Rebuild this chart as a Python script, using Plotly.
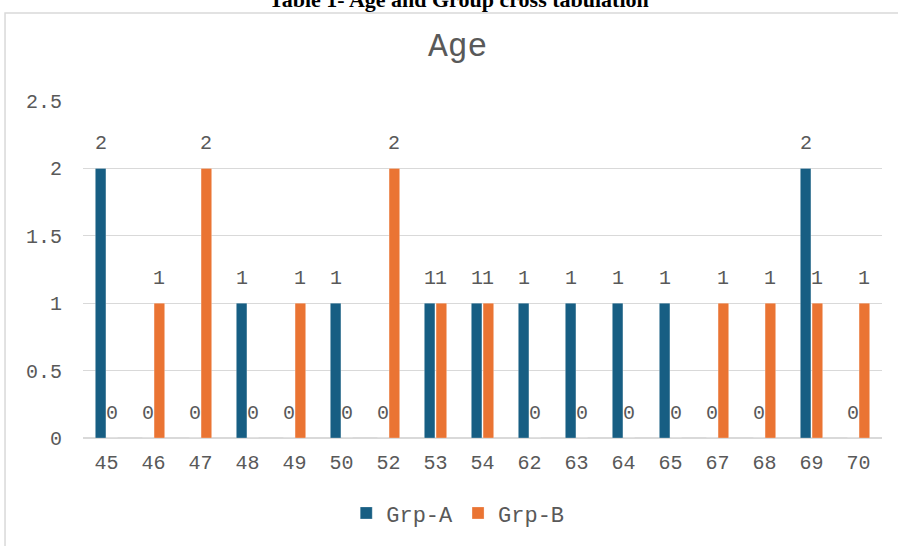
import plotly.graph_objects as go

# Age vs. group cross tabulation counts
ages = ["45", "46", "47", "48", "49", "50", "52", "53", "54",
        "62", "63", "64", "65", "67", "68", "69", "70"]
grp_a = [2, 0, 0, 1, 0, 1, 0, 1, 1, 1, 1, 1, 1, 0, 0, 2, 0]
grp_b = [0, 1, 2, 0, 1, 0, 2, 1, 1, 0, 0, 0, 0, 1, 1, 1, 1]
y_ticks = [0, 0.5, 1, 1.5, 2, 2.5]

BLUE = "#175E83"
ORANGE = "#EA7433"
GREY = "#595959"
GRID = "#D9D9D9"
MONO = "Liberation Mono, Courier New, monospace"

fig = go.Figure()
fig.add_trace(go.Bar(name="Grp-A", x=ages, y=grp_a, marker_color=BLUE,
                     marker_line=dict(color="rgba(255,255,255,0.5)", width=0.5)))
fig.add_trace(go.Bar(name="Grp-B", x=ages, y=grp_b, marker_color=ORANGE,
                     marker_line=dict(color="rgba(255,255,255,0.5)", width=0.5)))

# value labels above each bar (including zero counts); x is the category index
annotations = []
for series, offset in ((grp_a, -0.125), (grp_b, 0.125)):
    for i, v in enumerate(series):
        annotations.append(dict(
            x=i + offset, y=v, xref="x", yref="y", text=str(v), showarrow=False,
            yshift=25, yanchor="middle",
            font=dict(family=MONO, size=20, color=GREY)))

# chart heading and caption
annotations.append(dict(
    text="Age", x=0.469, y=1.16, xref="paper", yref="paper", showarrow=False,
    xanchor="center", yanchor="middle",
    font=dict(family=MONO, size=33, color=GREY)))
annotations.append(dict(
    text="<b>Table 1- Age and Group cross tabulation</b>", x=0.47, y=1.30,
    xref="paper", yref="paper", showarrow=False, xanchor="center",
    yanchor="middle", font=dict(family="Liberation Serif, Times New Roman, serif",
                                size=22, color="black")))

fig.update_layout(
    width=898, height=546,
    margin=dict(l=83, r=16, t=101, b=104),
    paper_bgcolor="white", plot_bgcolor="white",
    barmode="group", bargap=0.5, bargroupgap=0.1,
    showlegend=True,
    legend=dict(orientation="h", x=0.469, y=-0.223, xanchor="center",
                yanchor="middle", font=dict(family=MONO, size=22, color=GREY),
                itemwidth=30),
    annotations=annotations,
    shapes=[dict(type="rect", xref="paper", yref="paper",
                 x0=-0.0976, x1=1.2, y0=-0.4, y1=1.261,
                 line=dict(color=GRID, width=1.5), layer="below")],
)
fig.update_xaxes(type="category", showgrid=False, showline=False, ticks="",
                 range=[-0.5, len(ages) - 0.5],
                 tickfont=dict(family=MONO, size=20, color=GREY),
                 ticklabelstandoff=10)
fig.update_yaxes(range=[0, 2.5], tickvals=y_ticks,
                 ticktext=[f"{t:g}" for t in y_ticks],
                 showgrid=True, gridcolor=GRID, gridwidth=1,
                 zeroline=True, zerolinecolor=GRID, zerolinewidth=1.5,
                 tickfont=dict(family=MONO, size=20, color=GREY),
                 ticklabelstandoff=20)

fig.write_html("out.html")
